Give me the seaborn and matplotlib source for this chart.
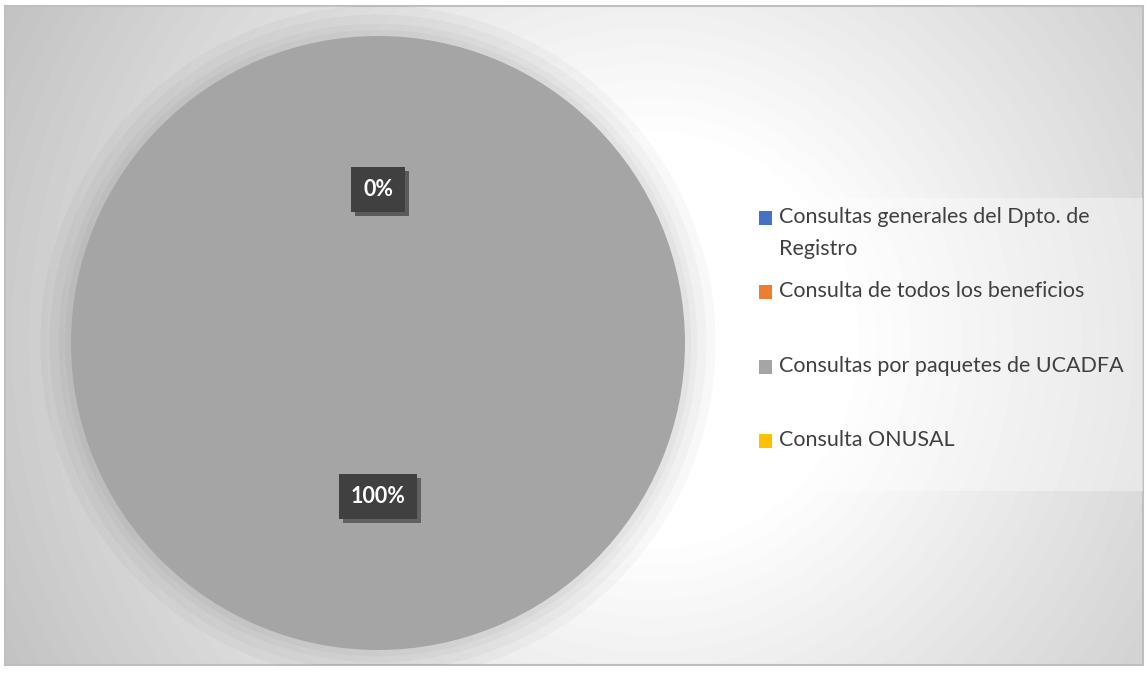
import textwrap
import numpy as np
import matplotlib.pyplot as plt
import matplotlib.patheffects as pe
import seaborn as sns
from matplotlib.patches import Rectangle, Circle, Wedge
from matplotlib.legend_handler import HandlerPatch

# data
categories = ["Consultas generales del Dpto. de Registro",
              "Consulta de todos los beneficios",
              "Consultas por paquetes de UCADFA",
              "Consulta ONUSAL"]
values = [0, 0, 100, 0]
palette = sns.color_palette(["#4472c4", "#ed7d31", "#a5a5a5", "#ffc000"])

sns.set_style("white")
plt.rcParams["font.family"] = ["Lato", "DejaVu Sans"]

W, H = 1147, 675
fig = plt.figure(figsize=(W / 100, H / 100), dpi=100)

# ----------------------------------------------------------------------------------------------------------------------
# chart area with radial grey/white gradient
bg = fig.add_axes([5 / W, 10 / H, 1138 / W, 659 / H])
xx, yy = np.meshgrid(np.arange(5, 1143), np.arange(6, 665))
dist = np.hypot(xx - 650, yy - 340)
shade = 1 - 0.25 * np.clip((dist - 200) / 550, 0, 1)
bg.imshow(shade, cmap="gray", vmin=0, vmax=1, aspect="auto", extent=(0, 1, 0, 1))
bg.set_xticks([])
bg.set_yticks([])
for s in bg.spines.values():
    s.set_color("#bfbfbf")
    s.set_linewidth(1.5)

# ----------------------------------------------------------------------------------------------------------------------
# pie
lim = 1.15
half = lim * 307
ax = fig.add_axes([(378 - half) / W, (332 - half) / H, 2 * half / W, 2 * half / H])
ax.patch.set_alpha(0)

# soft glow round the pie
for r in [1.1, 1.07, 1.04, 1.02]:
    glow = Circle((0, 0), r, facecolor="black", alpha=0.028, lw=0)
    ax.add_patch(glow)
    glow.set_clip_path(bg.patch)

wedges, _, autotexts = ax.pie(values, colors=palette, startangle=90, counterclock=False,
                              autopct="%1.0f%%", pctdistance=0.5, radius=1,
                              wedgeprops=dict(linewidth=0),
                              textprops=dict(color="white", fontweight="bold", fontsize=15.5))
ax.set_xlim(-lim, lim)
ax.set_ylim(-lim, lim)
ax.set_aspect("equal")
ax.axis("off")

for t in autotexts:
    t.set_bbox(dict(boxstyle="square,pad=0.55", facecolor="#404040", edgecolor="none"))
    t.get_bbox_patch().set_path_effects([
        pe.SimplePatchShadow(offset=(3, -3), shadow_rgbFace="#5a5a5a", alpha=0.9),
        pe.Normal()])

# ----------------------------------------------------------------------------------------------------------------------
# legend (handles aligned with first line of each label)
labels = []
for c in categories:
    lab = textwrap.fill(c, 32)
    if "\n" not in lab:
        lab += "\n"
    labels.append(lab)

fs = 15.5


def top_square(legend, orig_handle, xdescent, ydescent, width, height, fontsize):
    return Rectangle((-xdescent, -ydescent + 0.72 * fontsize), width, height)


leg = ax.legend(wedges, labels, handler_map={Wedge: HandlerPatch(patch_func=top_square)},
                loc="upper left", bbox_to_anchor=(750 / W, 1 - 198 / H - 0.05, 393 / W, 0.05),
                bbox_transform=fig.transFigure, mode="expand", borderaxespad=0,
                fontsize=fs, labelcolor="#404040", frameon=True, fancybox=False,
                facecolor="white", framealpha=0.35, edgecolor="none",
                handlelength=0.62, handleheight=0.62, handletextpad=0.35,
                borderpad=0.4, labelspacing=1.05)
for t in leg.get_texts():
    t.set_linespacing(1.75)

fig.savefig("out.png", dpi=100)
